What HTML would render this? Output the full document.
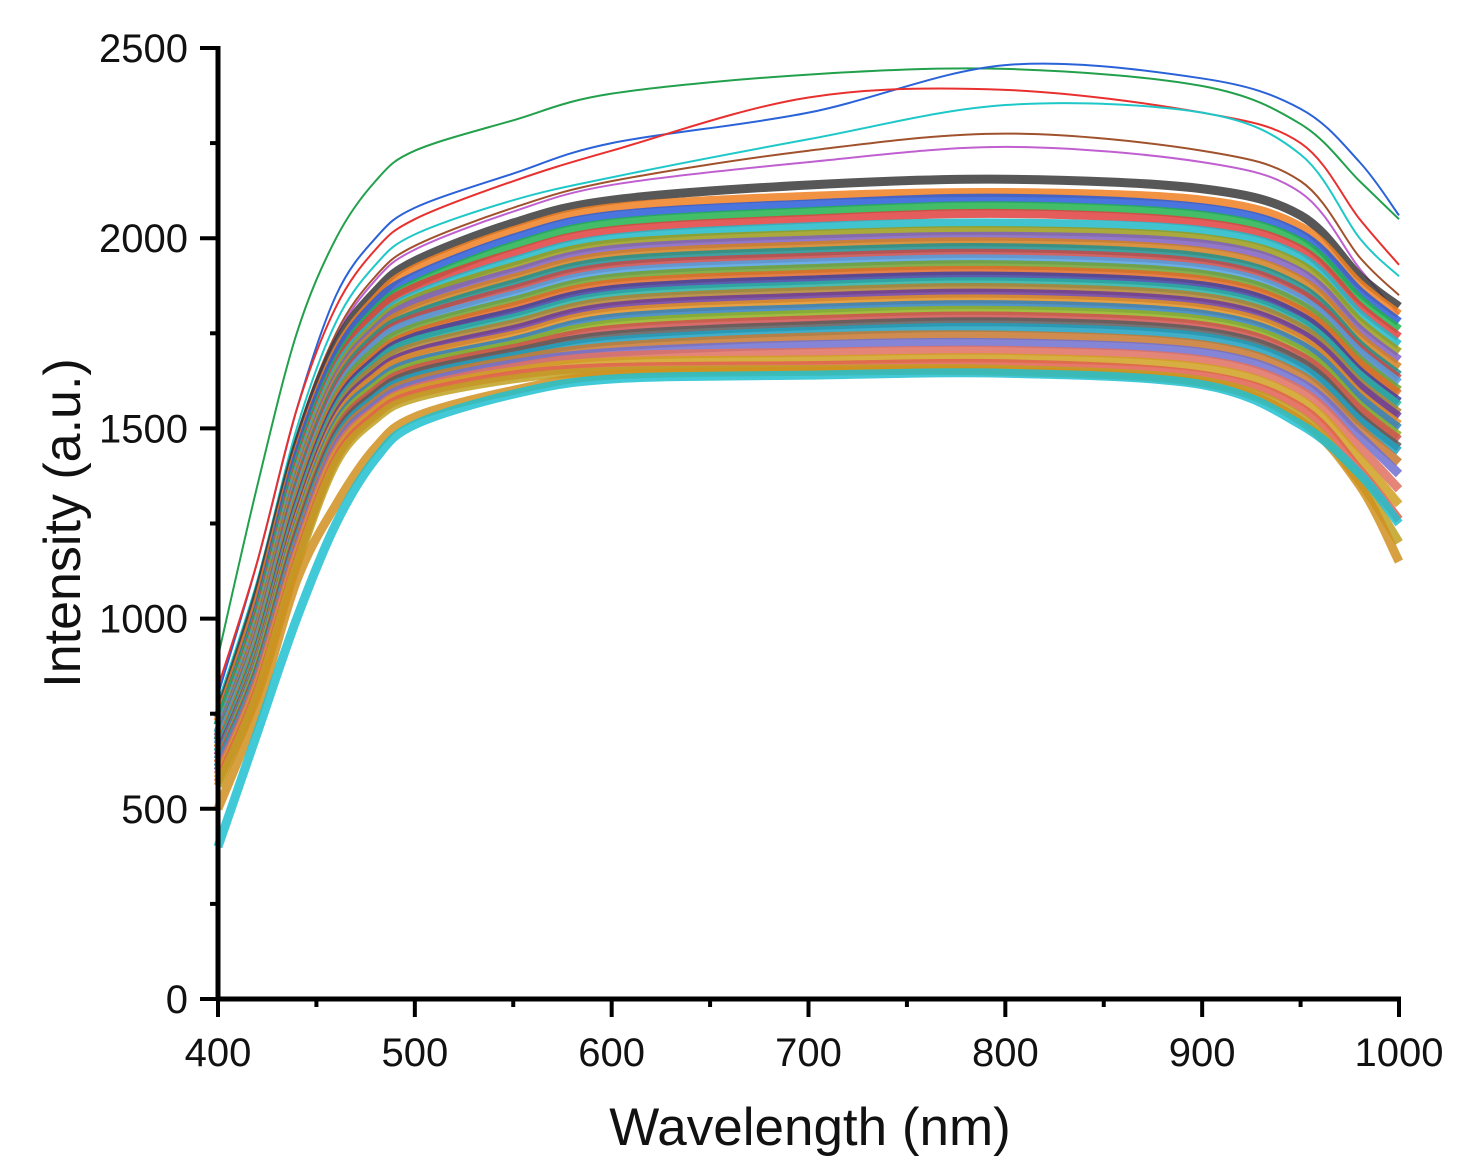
<!DOCTYPE html>
<html><head><meta charset="utf-8"><style>
html,body{margin:0;padding:0;background:#fff}
svg{display:block}
text{font-family:"Liberation Sans",Arial,sans-serif;fill:#111}
</style></head><body>
<svg id="chart" width="1457" height="1174" viewBox="0 0 1457 1174" xmlns="http://www.w3.org/2000/svg">
<g id="lines"></g>
<g id="axes"></g>
<text x="810" y="1145" font-size="53" text-anchor="middle">Wavelength (nm)</text>
<text transform="translate(80,523) rotate(-90)" font-size="52" text-anchor="middle">Intensity (a.u.)</text>
</svg>
<script>
const wavelengths=[400,420,440,460,480,500,550,600,700,800,900,950,980,1000];
const xTicks=[400,500,600,700,800,900,1000];
const yTicks=[0,500,1000,1500,2000,2500];
const spectra=[
[900,1350,1750,2000,2150,2230,2310,2380,2430,2445,2400,2300,2150,2050],
[800,1150,1550,1850,2000,2080,2170,2250,2330,2455,2420,2340,2200,2060],
[820,1150,1550,1820,1970,2050,2150,2230,2370,2390,2330,2250,2050,1930],
[780,1100,1500,1780,1930,2010,2100,2160,2260,2350,2330,2220,2000,1900],
[760,1080,1480,1750,1900,1980,2080,2150,2230,2275,2230,2150,1950,1850],
[760,1080,1470,1740,1890,1970,2070,2140,2200,2240,2200,2120,1920,1800],
[740,1060,1450,1720,1860,1940,2040,2100,2140,2155,2130,2060,1900,1820],
[730,1040,1430,1700,1840,1920,2020,2080,2110,2120,2100,2030,1880,1800],
[720,1020,1420,1690,1830,1900,2000,2060,2090,2105,2080,2010,1860,1780],
[720,1010,1400,1670,1810,1880,1980,2040,2070,2085,2060,1990,1840,1760],
[700,1000,1390,1660,1800,1870,1960,2020,2050,2065,2040,1970,1820,1740],
[700,990,1380,1650,1780,1850,1940,2000,2030,2040,2020,1950,1800,1720],
[690,980,1370,1640,1770,1840,1925,1985,2010,2020,2000,1930,1780,1700],
[690,970,1360,1630,1760,1830,1910,1970,1995,2005,1985,1910,1760,1680],
[680,960,1350,1620,1750,1815,1895,1955,1980,1990,1965,1890,1740,1660],
[680,950,1340,1610,1740,1800,1880,1940,1965,1975,1950,1870,1720,1640],
[670,945,1330,1600,1730,1790,1865,1925,1950,1960,1935,1855,1710,1630],
[670,940,1320,1590,1720,1780,1850,1910,1935,1945,1920,1840,1700,1620],
[660,930,1310,1580,1705,1765,1835,1895,1920,1930,1905,1825,1680,1600],
[660,920,1300,1570,1690,1750,1820,1880,1905,1915,1890,1810,1670,1590],
[650,915,1290,1560,1680,1740,1805,1865,1890,1900,1875,1795,1650,1570],
[650,910,1280,1550,1670,1730,1790,1850,1875,1885,1860,1780,1640,1560],
[640,900,1270,1540,1660,1715,1775,1835,1860,1870,1845,1765,1620,1540],
[640,890,1260,1530,1645,1700,1760,1820,1845,1855,1830,1750,1610,1530],
[630,885,1250,1520,1635,1690,1745,1805,1830,1840,1815,1735,1590,1510],
[630,880,1240,1510,1620,1675,1730,1790,1815,1825,1800,1720,1580,1500],
[620,870,1230,1500,1610,1665,1720,1775,1800,1810,1785,1705,1560,1480],
[620,860,1220,1490,1600,1655,1710,1760,1785,1795,1770,1690,1550,1470],
[610,855,1210,1480,1590,1645,1700,1745,1770,1780,1755,1675,1530,1450],
[610,850,1200,1470,1580,1635,1690,1730,1755,1765,1740,1660,1520,1440],
[600,840,1190,1460,1570,1625,1680,1715,1740,1745,1720,1640,1500,1410],
[600,835,1180,1450,1560,1615,1670,1700,1720,1725,1700,1620,1480,1380],
[590,830,1170,1440,1550,1605,1660,1690,1700,1705,1680,1600,1450,1340],
[580,820,1160,1430,1545,1600,1650,1675,1680,1685,1660,1575,1420,1300],
[570,810,1150,1420,1535,1590,1640,1660,1665,1670,1640,1555,1390,1260],
[560,800,1140,1410,1525,1580,1630,1650,1655,1655,1625,1530,1360,1200],
[500,760,1100,1300,1450,1530,1600,1640,1650,1650,1620,1520,1350,1150],
[400,700,1000,1250,1420,1510,1590,1630,1640,1645,1615,1510,1380,1250]
];
const seriesColors=['#22a04c','#2a62d8','#e8302f','#1fc8c8','#a0522d','#c060d0','#3a3a3a','#f07f22','#2a5cd8','#22b14c','#e04040','#20b8c8','#9a9a1a','#8060c0','#d08020','#1f8f8f','#c84848','#50a0e0','#70a030','#e06828','#4040a0','#28b0a0','#b08030','#6a3a9a','#e09020','#3080c0','#90b020','#d05050','#5a5a5a','#20a0c0','#c87830','#7070d0','#e07060','#d0a020','#e06050','#c0a020','#d09020','#20c0d0'];
const X0=218,X1=1399,Y0=999,Y1=48;
function xs(v){return X0+(v-400)/600*(X1-X0);}
function ys(v){return Y0-v/2500*(Y0-Y1);}
const NS='http://www.w3.org/2000/svg';
const lg=document.getElementById('lines');
spectra.forEach((s,i)=>{
  const p=document.createElementNS(NS,'path');
  const pts=s.map((v,j)=>[xs(wavelengths[j]),ys(v)]);
  let d='M'+pts[0][0]+','+pts[0][1];
  for(let j=0;j<pts.length-1;j++){
    const p0=pts[Math.max(0,j-1)],p1=pts[j],p2=pts[j+1],p3=pts[Math.min(pts.length-1,j+2)];
    const c1=[p1[0]+(p2[0]-p0[0])/6,p1[1]+(p2[1]-p0[1])/6];
    const c2=[p2[0]-(p3[0]-p1[0])/6,p2[1]-(p3[1]-p1[1])/6];
    d+=' C'+c1[0]+','+c1[1]+' '+c2[0]+','+c2[1]+' '+p2[0]+','+p2[1];
  }
  p.setAttribute('d',d);
  p.setAttribute('fill','none');
  p.setAttribute('stroke',seriesColors[i%seriesColors.length]);
  p.setAttribute('stroke-width',i<6?'2':'9');
  p.setAttribute('stroke-opacity',i<6?'1':'0.85');
  
  
  lg.appendChild(p);
});
const ag=document.getElementById('axes');
function ln(x1,y1,x2,y2,w,name){
  const l=document.createElementNS(NS,'line');
  l.setAttribute('x1',x1);l.setAttribute('y1',y1);l.setAttribute('x2',x2);l.setAttribute('y2',y2);
  l.setAttribute('stroke','#000');l.setAttribute('stroke-width',w);
  
  
  ag.appendChild(l);
}
function tx(x,y,s,anchor,name){
  const t=document.createElementNS(NS,'text');
  t.setAttribute('x',x);t.setAttribute('y',y);t.setAttribute('font-size','40');t.setAttribute('text-anchor',anchor);
  t.textContent=s;
  
  
  ag.appendChild(t);
}
ln(X0,Y1-2,X0,Y0+2,5,'y-axis-line');
ln(X0-2,Y0,X1+2,Y0,5,'x-axis-line');
for(let v=400;v<=1000;v+=50){const major=v%100===0;ln(xs(v),Y0,xs(v),Y0+(major?18:8),4,'x-tick');}
for(let v=0;v<=2500;v+=250){const major=v%500===0;ln(X0,ys(v),X0-(major?18:8),ys(v),4,'y-tick');}
xTicks.forEach(v=>tx(xs(v),1066,String(v),'middle','x-tick-label'));
yTicks.forEach(v=>tx(188,ys(v)+14,String(v),'end','y-tick-label'));
</script>
</body></html>
